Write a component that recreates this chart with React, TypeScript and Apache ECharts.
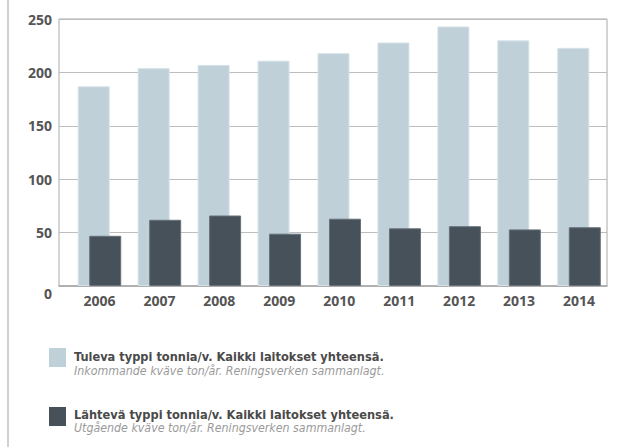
import React, { useEffect, useRef } from "react";
import * as echarts from "echarts";

const years = ["2006", "2007", "2008", "2009", "2010", "2011", "2012", "2013", "2014"];
const incoming = [187, 204, 207, 211, 218, 228, 243, 230, 223];
const outgoing = [47, 62, 66, 49, 63, 54, 56, 53, 55];
const yTicks = [0, 50, 100, 150, 200, 250];
const legendFi = [
  "Tuleva typpi tonnia/v. Kaikki laitokset yhteensä.",
  "Lähtevä typpi tonnia/v. Kaikki laitokset yhteensä.",
];
const legendSv = [
  "Inkommande kväve ton/år. Reningsverken sammanlagt.",
  "Utgående kväve ton/år. Reningsverken sammanlagt.",
];

const LIGHT = "#bfd0d9";
const DARK = "#47515a";
const AXIS_FONT = "'Open Sans', 'Noto Sans', sans-serif";
const LEG_FONT = "'Liberation Sans Narrow', 'DejaVu Sans Condensed', 'Liberation Sans', sans-serif";

export default function App() {
  const ref = useRef<HTMLDivElement>(null);
  useEffect(() => {
    if (!ref.current) return;
    const chart = echarts.init(ref.current, undefined, { renderer: "svg" });
    const colors = [LIGHT, DARK];
    const legendGraphics: any[] = [];
    const sqY = [348, 407];
    const boldY = [356, 414];
    const italY = [370.5, 428];
    for (let i = 0; i < 2; i++) {
      legendGraphics.push({
        type: "rect",
        shape: { x: 49, y: sqY[i], width: 17, height: 19 },
        style: { fill: colors[i] },
      });
      legendGraphics.push({
        type: "text",
        x: 74,
        y: boldY[i],
        style: {
          text: legendFi[i],
          fill: "#4a4a4a",
          fontFamily: LEG_FONT,
          fontWeight: "bold",
          fontSize: 12.7,
          verticalAlign: "middle",
        },
      });
      legendGraphics.push({
        type: "text",
        x: 74,
        y: italY[i],
        style: {
          text: legendSv[i],
          fill: "#9a9a9a",
          fontFamily: LEG_FONT,
          fontStyle: "italic",
          fontSize: 12.3,
          verticalAlign: "middle",
        },
      });
    }
    chart.setOption({
      animation: false,
      grid: [
        { left: 59, right: 13, top: 19, bottom: 161, show: true, borderColor: "#a8a8a8", borderWidth: 1 },
        { left: 69.5, right: 11, top: 19, bottom: 161 },
      ],
      xAxis: [
        {
          gridIndex: 0,
          type: "category",
          data: [""],
          axisLine: { show: true, lineStyle: { color: "#a8a8a8", width: 1.5 } },
          axisTick: { show: false },
          axisLabel: { show: false },
        },
        {
          gridIndex: 1,
          type: "category",
          data: years,
          axisLine: { show: false },
          axisTick: { show: false },
          axisLabel: {
            margin: 7,
            color: "#555",
            fontFamily: AXIS_FONT,
            fontWeight: "bold",
            fontSize: 14,
          },
        },
      ],
      yAxis: [
        {
          gridIndex: 0,
          type: "value",
          min: 0,
          max: 250,
          interval: 50,
          axisLine: { show: false },
          axisTick: { show: false },
          splitLine: { lineStyle: { color: "#bdbdbd", width: 1.2 } },
          axisLabel: {
            margin: 7,
            color: "#555",
            fontFamily: AXIS_FONT,
            fontWeight: "bold",
            fontSize: 14,
            formatter: (v: number) => (v === yTicks[0] ? "{z|" + v + "}" : String(v)),
            rich: {
              z: {
                padding: [14, 0, 0, 0],
                color: "#555",
                fontFamily: AXIS_FONT,
                fontWeight: "bold",
                fontSize: 14,
              },
            },
          },
        },
        {
          gridIndex: 1,
          type: "value",
          min: 0,
          max: 250,
          show: false,
        },
      ],
      series: [
        {
          type: "bar",
          xAxisIndex: 1,
          yAxisIndex: 1,
          data: incoming,
          barWidth: 32,
          barGap: "-64%",
          itemStyle: { color: LIGHT, borderColor: "#d6e2e8", borderWidth: 1 },
        },
        {
          type: "bar",
          xAxisIndex: 1,
          yAxisIndex: 1,
          data: outgoing,
          barWidth: 32,
          itemStyle: { color: DARK, borderColor: "#66717a", borderWidth: 1 },
        },
      ],
      graphic: [
        {
          type: "line",
          shape: { x1: 8, y1: 0, x2: 8, y2: 447 },
          style: { stroke: "#d0d0d0", lineWidth: 2 },
        },
        ...legendGraphics,
      ],
    });
    return () => chart.dispose();
  }, []);
  return (
    <div
      ref={ref}
      style={{ position: "absolute", left: 0, top: 0, width: 620, height: 447, background: "#fff" }}
    />
  );
}
